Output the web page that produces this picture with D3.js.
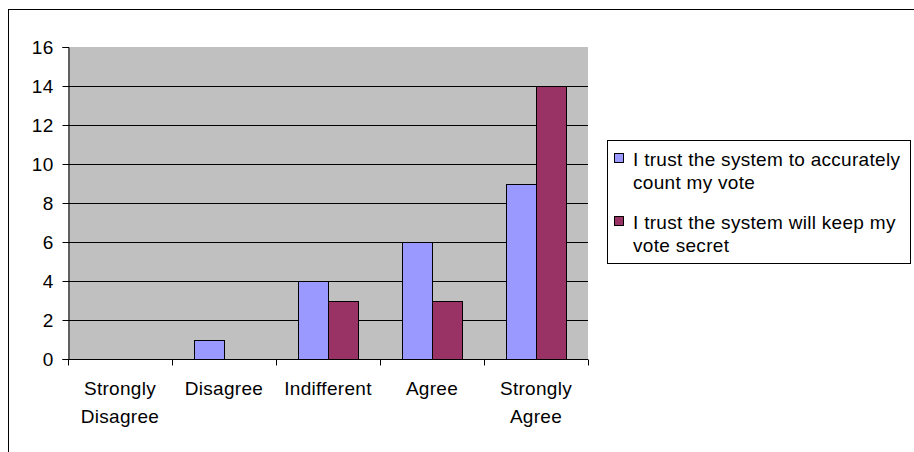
<!DOCTYPE html>
<html>
<head>
<meta charset="utf-8">
<script src="https://cdn.jsdelivr.net/npm/d3@7"></script>
<style>
  html, body { margin: 0; padding: 0; background: #fff; }
  svg { display: block; }
  text { font-family: "Liberation Sans", Arial, sans-serif; fill: #000; }
</style>
</head>
<body>
<svg id="chart" width="914" height="452"></svg>
<script>
const categories = ["Strongly Disagree", "Disagree", "Indifferent", "Agree", "Strongly Agree"];
const seriesNames = ["I trust the system to accurately count my vote", "I trust the system will keep my vote secret"];
const seriesAccurate = [0, 1, 4, 6, 9];
const seriesSecret = [0, 0, 3, 3, 14];
const yTicks = [0, 2, 4, 6, 8, 10, 12, 14, 16];
const legendLines = [["I trust the system to accurately", "count my vote"], ["I trust the system will keep my", "vote secret"]];
const colors = ["#9999FF", "#993366"];

const svg = d3.select("#chart");
const W = 914, H = 452;
const plot = { left: 68, right: 588, top: 47, bottom: 359 };
const fontSize = 19, letterSp = 0.3;

// outer chart border (right/bottom lie outside the picture)
svg.append("rect").attr("x", 8.5).attr("y", 9.5).attr("width", W + 20).attr("height", H + 20)
  .attr("fill", "#fff").attr("stroke", "#000").attr("stroke-width", 1);

const y = d3.scaleLinear().domain([0, 16]).range([plot.bottom, plot.top]);
const x0 = d3.scaleBand().domain(categories).range([plot.left, plot.right]).paddingInner(0).paddingOuter(0);
const x1 = d3.scaleBand().domain([0, 1]).range([0, x0.bandwidth()]).paddingInner(0).paddingOuter(0.73);

// plot area
svg.append("rect").attr("x", plot.left).attr("y", plot.top)
  .attr("width", plot.right - plot.left).attr("height", plot.bottom - plot.top)
  .attr("fill", "#C0C0C0");

// gridlines
svg.append("g").selectAll("line").data(yTicks.filter(d => d > 0 && d < 16)).join("line")
  .attr("x1", plot.left).attr("x2", plot.right)
  .attr("y1", d => Math.round(y(d)) + 0.5).attr("y2", d => Math.round(y(d)) + 0.5)
  .attr("stroke", "#000").attr("stroke-width", 1);

// bars
const data = categories.map((c, i) => ({ c, vals: [seriesAccurate[i], seriesSecret[i]] }));
const groups = svg.append("g").selectAll("g").data(data).join("g")
  .attr("transform", d => `translate(${Math.round(x0(d.c))},0)`);
groups.selectAll("rect").data(d => d.vals.map((v, k) => ({ v, k })).filter(e => e.v > 0)).join("rect")
  .attr("x", e => Math.round(x1(e.k)) + 0.5)
  .attr("y", e => Math.round(y(e.v)) + 0.5)
  .attr("width", Math.round(x1.bandwidth()))
  .attr("height", e => Math.round(y(0)) - Math.round(y(e.v)))
  .attr("fill", e => colors[e.k]).attr("stroke", "#000").attr("stroke-width", 1);

// y axis
const yAxis = d3.axisLeft(y).tickValues(yTicks).tickSize(6).tickPadding(9).tickFormat(d3.format("d"));
const gy = svg.append("g").attr("transform", `translate(${plot.left + 0.5},0)`).call(yAxis);
gy.select(".domain").attr("stroke", "#000");
gy.selectAll(".tick line").attr("stroke", "#000");
gy.selectAll("text").attr("font-size", fontSize).style("letter-spacing", letterSp + "px")
  .attr("font-family", "'Liberation Sans', Arial, sans-serif");
gy.selectAll(".tick").attr("transform", d => `translate(0,${Math.round(y(d)) + 0.5})`);

// x axis
const xAxis = d3.axisBottom(x0).tickSize(0).tickFormat("");
const gx = svg.append("g").attr("transform", `translate(0,${Math.round(y(0)) + 0.5})`).call(xAxis);
gx.select(".domain").attr("stroke", "#000").attr("d", `M${plot.left},0H${plot.right}`);
gx.selectAll(".tick").remove();
// boundary tick marks
const bounds = categories.map(c => x0(c)).concat([plot.right]);
gx.selectAll("line.bt").data(bounds).join("line").attr("class", "bt")
  .attr("x1", d => Math.round(d) + 0.5).attr("x2", d => Math.round(d) + 0.5)
  .attr("y1", 0).attr("y2", 6).attr("stroke", "#000");

// category labels, wrapped
function wrapWords(label, maxW) {
  const words = label.split(" ");
  const lines = [];
  let cur = "";
  const meas = svg.append("text").attr("font-size", fontSize).style("letter-spacing", letterSp + "px");
  words.forEach(w => {
    const t = cur ? cur + " " + w : w;
    meas.text(t);
    if (meas.node().getComputedTextLength() > maxW && cur) { lines.push(cur); cur = w; }
    else cur = t;
  });
  lines.push(cur);
  meas.remove();
  return lines;
}
const labelG = svg.append("g");
categories.forEach(c => {
  const lines = wrapWords(c, x0.bandwidth() - 2);
  const t = labelG.append("text").attr("text-anchor", "middle").attr("font-size", fontSize)
    .style("letter-spacing", letterSp + "px");
  lines.forEach((ln, i) => {
    t.append("tspan").attr("x", x0(c) + x0.bandwidth() / 2).attr("y", 395 + i * 28).text(ln);
  });
});

// legend
const leg = { x: 607.5, y: 140.5, w: 303, h: 123 };
svg.append("rect").attr("x", leg.x).attr("y", leg.y).attr("width", leg.w).attr("height", leg.h)
  .attr("fill", "#fff").attr("stroke", "#000");
const entryY = [166, 229];
legendLines.forEach((lines, k) => {
  svg.append("rect").attr("x", 614.5).attr("y", entryY[k] - 12.5).attr("width", 9).attr("height", 9)
    .attr("fill", colors[k]).attr("stroke", "#000");
  const t = svg.append("text").attr("font-size", fontSize).style("letter-spacing", letterSp + "px");
  lines.forEach((ln, i) => {
    t.append("tspan").attr("x", 633).attr("y", entryY[k] + i * 23).text(ln);
  });
});
</script>
</body>
</html>
